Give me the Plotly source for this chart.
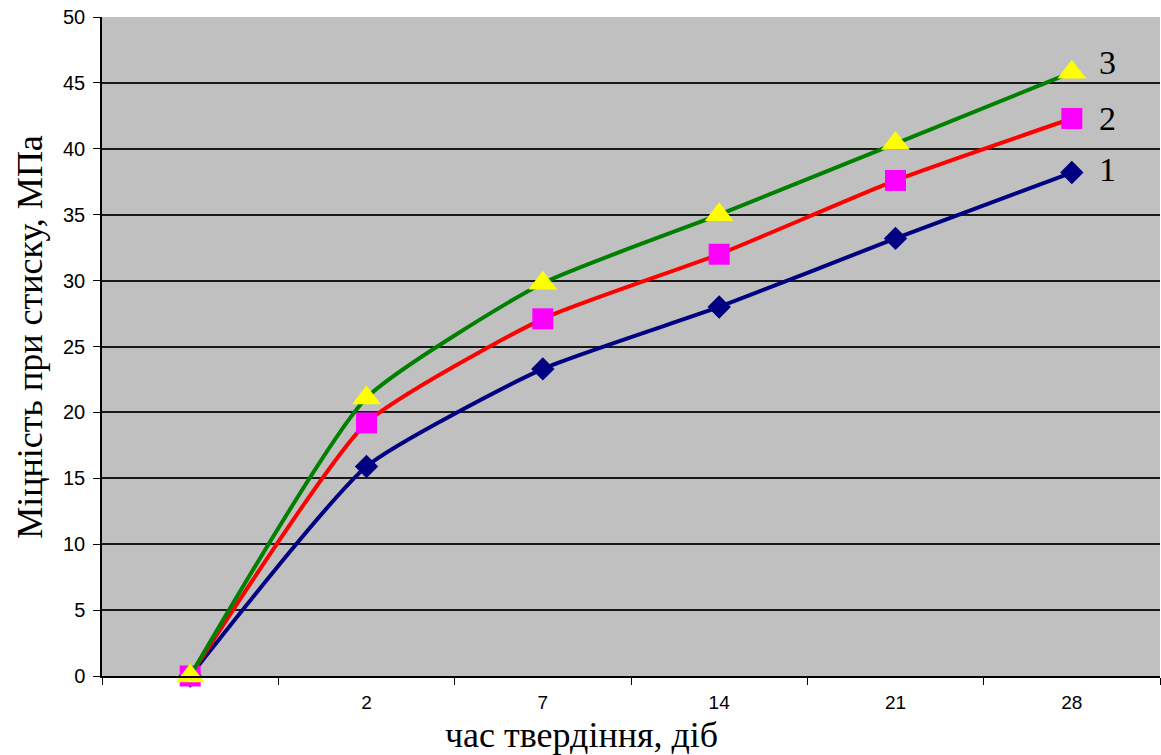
import plotly.graph_objects as go

categories = [" ", "2", "7", "14", "21", "28"]
series1 = [0, 15.9, 23.3, 28.0, 33.2, 38.2]
series2 = [0, 19.2, 27.1, 32.0, 37.6, 42.3]
series3 = [0, 21.1, 29.8, 35.0, 40.4, 45.8]
series_labels = ["1", "2", "3"]
y_ticks = [0, 5, 10, 15, 20, 25, 30, 35, 40, 45, 50]

fig = go.Figure()

specs = [
    (series1, "#000080", "#000080", "diamond", 18, series_labels[0], 3),
    (series2, "#FF0000", "#FF00FF", "square", 21, series_labels[1], 0),
    (series3, "#008000", "#FFFF00", "triangle-up", 25, series_labels[2], 10),
]
annotations = []
for vals, lc, mc, sym, ms, lab, ysh in specs:
    fig.add_trace(go.Scatter(
        x=categories, y=vals, mode="lines+markers",
        line=dict(color=lc, width=4, shape="spline", smoothing=0.5),
        marker=dict(symbol=sym, size=ms, color=mc, line=dict(width=0)),
        showlegend=False, cliponaxis=False,
    ))
    annotations.append(dict(
        text=lab, x=len(categories) - 1, y=vals[-1], xref="x", yref="y",
        xanchor="left", yanchor="middle", xshift=25, yshift=ysh, showarrow=False,
        font=dict(family="Liberation Serif", size=34, color="#000000"),
    ))

annotations += [
    dict(text="Міцність при стиску, МПа", xref="paper", yref="paper",
         x=-0.068, y=0.515, xanchor="center", yanchor="middle", textangle=-90,
         showarrow=False, font=dict(family="Liberation Serif", size=36, color="#000000")),
    dict(text="час твердіння, діб", xref="paper", yref="paper",
         x=0.4535, y=-0.09, xanchor="center", yanchor="middle",
         showarrow=False, font=dict(family="Liberation Serif", size=36, color="#000000")),
]

fig.update_layout(
    width=1161, height=755,
    margin=dict(l=102, r=1, t=17, b=79),
    paper_bgcolor="#FFFFFF", plot_bgcolor="#C0C0C0",
    font=dict(family="Liberation Sans", size=16, color="#000000"),
    annotations=annotations,
)
fig.update_xaxes(
    type="category", categoryorder="array", categoryarray=categories,
    tickson="boundaries", ticks="outside", ticklen=7, tickcolor="#000000",
    showline=True, linecolor="#000000", linewidth=1.5, showgrid=False,
    tickfont=dict(family="Liberation Sans", size=19), range=[-0.5, 5.5],
    ticklabelstandoff=8,
)
fig.update_yaxes(
    range=[0, 50], tickvals=y_ticks, ticks="outside", ticklen=7, tickcolor="#000000",
    showline=True, linecolor="#000000", linewidth=1.5,
    showgrid=True, gridcolor="#1a1a1a", gridwidth=1.5, zeroline=False,
    tickfont=dict(family="Liberation Sans", size=20), ticklabelstandoff=4,
)
fig.write_html("out.html", config={"displayModeBar": False},
               post_script="document.body.style.margin='0';document.body.style.padding='0';")
